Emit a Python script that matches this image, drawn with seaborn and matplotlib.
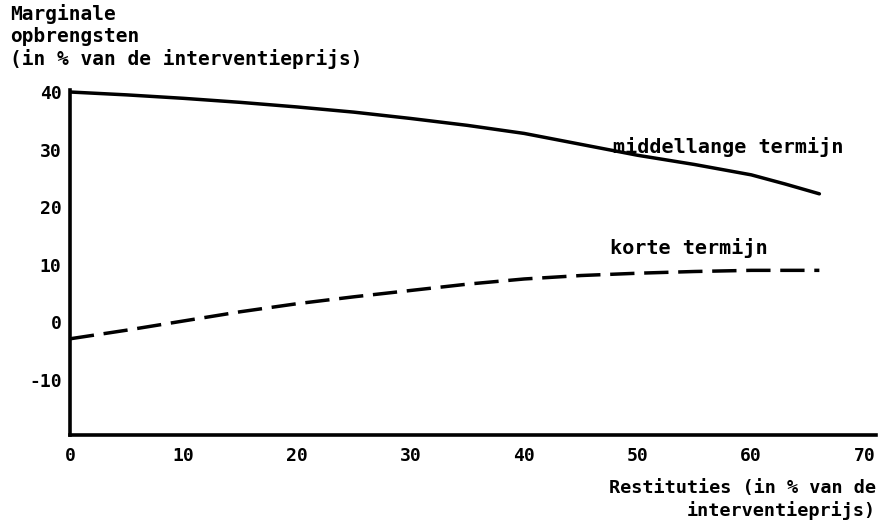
import pandas as pd
import matplotlib
matplotlib.use('Agg')
import matplotlib.pyplot as plt
import seaborn as sns

# Data
x_mid = [0, 5, 10, 15, 20, 25, 30, 35, 40, 45, 50, 55, 60, 63, 66]
y_mid = [40, 39.5, 38.9, 38.2, 37.4, 36.5, 35.4, 34.2, 32.8, 30.9, 29.0, 27.4, 25.6, 24.0, 22.3]
x_kort = [0, 5, 10, 15, 20, 25, 30, 35, 40, 45, 50, 55, 60, 66]
y_kort = [-2.9, -1.4, 0.2, 1.8, 3.2, 4.4, 5.5, 6.6, 7.5, 8.1, 8.5, 8.8, 9.0, 9.0]
x_ticks = [0, 10, 20, 30, 40, 50, 60, 70]
y_ticks = [-10, 0, 10, 20, 30, 40]

df = pd.concat([
    pd.DataFrame({'x': x_mid, 'y': y_mid, 'serie': 'middellange termijn'}),
    pd.DataFrame({'x': x_kort, 'y': y_kort, 'serie': 'korte termijn'}),
])

sns.set_style('white')
plt.rcParams['font.family'] = ['DejaVu Sans Mono']
plt.rcParams['font.weight'] = 'bold'
plt.rcParams['text.color'] = 'black'
plt.rcParams['axes.unicode_minus'] = False

fig = plt.figure(figsize=(8.85, 5.31), dpi=100)
ax = fig.add_axes([0.079, 0.181, 0.911, 0.649])

sns.lineplot(data=df, x='x', y='y', style='serie', color='black', linewidth=2.5,
             dashes={'middellange termijn': '', 'korte termijn': (7, 2.8)},
             legend=False, ax=ax, sort=False)

ax.set_xlim(0, 71)
ax.set_ylim(-19.6, 40.3)
ax.set_xticks(x_ticks)
ax.set_yticks(y_ticks)
ax.tick_params(axis='both', direction='in', length=7, width=2.5, colors='black',
               labelsize=13, pad=6)
ax.tick_params(axis='x', pad=9)
for lab in ax.get_xticklabels() + ax.get_yticklabels():
    lab.set_fontweight('bold')
for side in ['top', 'right']:
    ax.spines[side].set_visible(False)
for side in ['left', 'bottom']:
    ax.spines[side].set_linewidth(2.6)
    ax.spines[side].set_color('black')
ax.set_xlabel('')
ax.set_ylabel('')

ax.text(47.8, 30.5, 'middellange termijn', fontsize=14.5, va='center', ha='left')
ax.text(47.6, 12.8, 'korte termijn', fontsize=14.5, va='center', ha='left')

fig.text(0.011, 0.992, 'Marginale\nopbrengsten\n(in % van de interventieprijs)',
         fontsize=14, fontweight='bold', va='top', ha='left', linespacing=1.2)
fig.text(0.99, 0.098, 'Restituties (in % van de\ninterventieprijs)',
         fontsize=13.3, fontweight='bold', va='top', ha='right', linespacing=1.3)

fig.savefig('out.png', dpi=100)
